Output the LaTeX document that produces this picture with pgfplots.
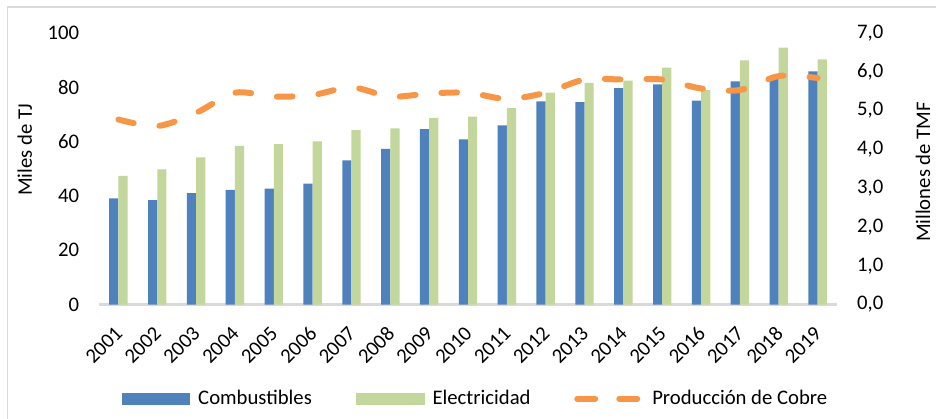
\documentclass[border=0pt]{standalone}
\usepackage{pgfplots}
\pgfplotsset{compat=1.18}
\usepackage{pgfplotstable}
\usepackage{fontspec}
\setmainfont{Carlito}
\definecolor{cblue}{HTML}{4F81BD}
\definecolor{cgreen}{HTML}{C3D69B}
\definecolor{corange}{HTML}{F79646}
\definecolor{cgrid}{HTML}{D9D9D9}
\newcommand\chartfont{\fontsize{20.7bp}{24bp}\selectfont}

% year index, Combustibles, Electricidad (miles de TJ), Cobre (millones TMF)
\pgfplotstableread{
year comb elec cobre
0  39.1 47.4 4.77
1  38.4 49.8 4.60
2  41.0 54.2 4.94
3  42.2 58.4 5.46
4  42.7 59.1 5.36
5  44.5 60.1 5.40
6  53.1 64.2 5.60
7  57.3 64.9 5.36
8  64.6 68.7 5.44
9  60.8 69.2 5.46
10 66.0 72.3 5.30
11 74.8 78.0 5.46
12 74.5 81.6 5.80
13 79.7 82.5 5.80
14 81.1 87.2 5.80
15 75.1 79.0 5.57
16 82.2 89.9 5.53
17 83.7 94.6 5.89
18 85.9 90.3 5.84
}\datos

\begin{document}
\begin{tikzpicture}
\draw[cgrid, line width=1.5bp] (7.5bp,-10bp) -- (7.5bp,412bp) -- (950bp,412bp);

\begin{axis}[
  at={(99bp,114.5bp)}, anchor=south west,
  width=738bp, height=271.5bp, scale only axis,
  xmin=-0.5, xmax=18.5, ymin=0, ymax=100,
  xtick={0,...,18},
  xticklabels={2001,2002,2003,2004,2005,2006,2007,2008,2009,2010,2011,2012,2013,2014,2015,2016,2017,2018,2019},
  ytick={0,20,...,100},
  axis x line*=bottom, axis y line*=left,
  x axis line style={cgrid, line width=2bp, -},
  y axis line style={draw=none},
  major tick length=0pt, tick style={draw=none},
  /pgf/number format/assume math mode=true,
  tick label style={font=\chartfont},
  xticklabel style={anchor=north east, inner sep=0pt, xshift=-4.5bp, yshift=-20.5bp, rotate=45},
  yticklabel style={anchor=east, inner sep=0pt, xshift=-19.7bp},
  ylabel={Miles de TJ},
  every axis y label/.style={at={(axis description cs:-0.0908,0.570)}, rotate=90, anchor=base, inner sep=0pt, font=\chartfont},
  legend columns=3,
  legend style={at={(axis description cs:0.0312,-0.345)}, anchor=west, draw=none, fill=none,
    inner sep=0pt, nodes={inner sep=0pt}, font=\chartfont,
    /tikz/every odd column/.append style={column sep=8bp},
    /tikz/every even column/.append style={column sep=43.7bp}},
]
\addplot[ybar, fill=cblue, draw=none, bar width=9.2bp, bar shift=-4.6bp,
  legend image code/.code={\fill[cblue] (0bp,-6.5bp) rectangle (68bp,5.5bp);}]
  table[x=year, y=comb] {\datos};
\addlegendentry{Combustibles}
\addplot[ybar, fill=cgreen, draw=none, bar width=9.2bp, bar shift=4.6bp,
  legend image code/.code={\fill[cgreen] (0bp,-6.5bp) rectangle (69bp,5.5bp);}]
  table[x=year, y=elec] {\datos};
\addlegendentry{Electricidad}
\addlegendimage{legend image code/.code={\path[draw=none, fill=none] (0bp,-6.5bp) rectangle (70bp,5.5bp);
  \draw[corange, line width=6bp, line cap=round, dash pattern=on 18bp off 24bp] (3bp,-0.5bp) -- (63bp,-0.5bp);}}
\addlegendentry{Producción de Cobre}
\end{axis}

\begin{axis}[
  at={(99bp,114.5bp)}, anchor=south west,
  width=738bp, height=271.5bp, scale only axis,
  xmin=-0.5, xmax=18.5, ymin=0, ymax=7,
  ytick={0,1,...,7},
  axis y line*=right, axis x line=none,
  y axis line style={draw=none},
  major tick length=0pt, tick style={draw=none},
  /pgf/number format/.cd, assume math mode=true, fixed, fixed zerofill, precision=1, use comma, 1000 sep={},
  /pgfplots/.cd,
  tick label style={font=\chartfont},
  yticklabel style={anchor=west, inner sep=0pt, xshift=20bp},
  ylabel={Millones de TMF},
  every axis y label/.style={at={(axis description cs:1.126,0.488)}, rotate=90, anchor=base, inner sep=0pt, font=\chartfont},
]
\addplot[corange, line width=6bp, line cap=round, smooth, dash pattern=on 15.7bp off 26bp]
  table[x=year, y=cobre] {\datos};
\end{axis}

\pgfresetboundingbox
\path[use as bounding box] (0bp,0bp) rectangle (936bp,419bp);
\end{tikzpicture}
\end{document}
